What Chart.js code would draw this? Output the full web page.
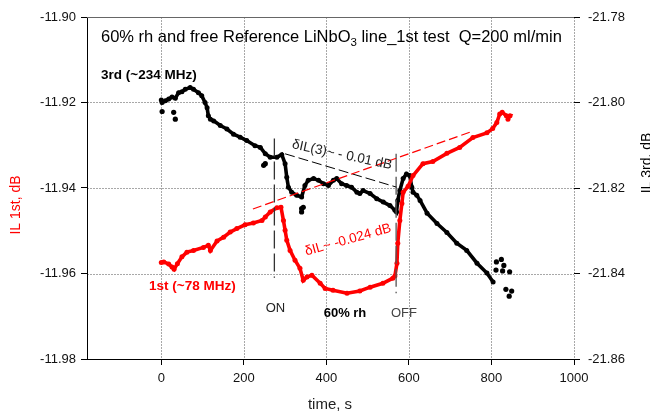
<!DOCTYPE html>
<html>
<head>
<meta charset="utf-8">
<script src="https://cdn.jsdelivr.net/npm/chart.js@4"></script>
<style>
    html, body { margin: 0; padding: 0; background: #fff; }
    #wrap { width: 650px; height: 416px; }
</style>
</head>
<body>
<div id="wrap"><canvas id="chart" width="650" height="416"></canvas></div>
<script>
// axis ticks
const xTicks = [0, 200, 400, 600, 800, 1000];
const ticks1st = [-11.98, -11.96, -11.94, -11.92, -11.90];
const ticks3rd = [-21.86, -21.84, -21.82, -21.80, -21.78];

// 1st harmonic (~78 MHz), left axis
const time1st = [0, 6, 18, 26, 31, 39, 50, 62, 78, 102, 114, 119, 135, 151, 167, 183, 203, 223, 244, 252, 264, 280, 290,
    296, 300, 304, 312, 324, 336, 344, 353, 365, 385, 397, 416, 450, 481, 506, 537, 561, 566,
    571, 573, 578, 583, 586, 598, 610, 634, 658, 692, 723, 755, 789, 803, 813, 820, 826, 836, 845, 840];
const il1st = [-11.9574, -11.9573, -11.9578, -11.9585, -11.9590, -11.9577, -11.9561, -11.9550, -11.9546, -11.9539, -11.9534, -11.9546, -11.9524, -11.9515, -11.9503, -11.9495, -11.9486, -11.9482, -11.9476, -11.9468, -11.9456, -11.9446, -11.9445,
    -11.9476, -11.9499, -11.9522, -11.9546, -11.9569, -11.9588, -11.9616, -11.9608, -11.9604, -11.9623, -11.9635, -11.9639, -11.9646, -11.9641, -11.9632, -11.9623, -11.9611, -11.9606,
    -11.9576, -11.9529, -11.9476, -11.9436, -11.9410, -11.9396, -11.9371, -11.9343, -11.9338, -11.9319, -11.9305, -11.9282, -11.9271, -11.9261, -11.9247, -11.9227, -11.9223, -11.9231, -11.9231, -11.9239];

// 3rd harmonic (~234 MHz), right axis
const time3rd = [0, 2, 10, 18, 26, 34, 42, 50, 58, 70, 78, 90, 98, 106, 111, 114, 119, 127, 143, 159, 175, 191, 207, 227, 240, 252, 264, 280, 292,
    300, 304, 308, 316, 328, 340, 348, 356, 369, 381, 393, 405, 417, 425, 437, 449, 461, 474, 481, 489, 506, 522, 538, 554, 566, 570,
    573, 578, 586, 594, 602, 607, 610, 619, 627, 644, 668, 692, 716, 740, 765, 789, 804];
const il3rd = [-21.7994, -21.8000, -21.7996, -21.7992, -21.7987, -21.7990, -21.7977, -21.7975, -21.7969, -21.7965, -21.7969, -21.7977, -21.7984, -21.8000, -21.8012, -21.8031, -21.8039, -21.8043, -21.8054, -21.8062, -21.8074, -21.8081, -21.8089, -21.8101, -21.8105, -21.8120, -21.8128, -21.8128, -21.8122,
    -21.8143, -21.8175, -21.8198, -21.8210, -21.8217, -21.8221, -21.8194, -21.8182, -21.8178, -21.8182, -21.8190, -21.8194, -21.8182, -21.8178, -21.8190, -21.8194, -21.8198, -21.8210, -21.8213, -21.8206, -21.8213, -21.8225, -21.8233, -21.8241, -21.8252, -21.8256,
    -21.8229, -21.8206, -21.8178, -21.8167, -21.8171, -21.8198, -21.8210, -21.8217, -21.8229, -21.8259, -21.8283, -21.8304, -21.8329, -21.8346, -21.8376, -21.8399, -21.8420];

// stray 3rd-harmonic readings
const timeStray3rd = [2, 30, 34, 248, 252, 340, 340, 344, 812, 824, 830, 827, 811, 844, 835, 843, 849];
const ilStray3rd = [-21.8021, -21.8023, -21.8039, -21.8147, -21.8143, -21.8248, -21.8256, -21.8245, -21.8373, -21.8367, -21.8381, -21.8394, -21.8392, -21.8396, -21.8437, -21.8453, -21.8441];

// gas ON / OFF times and drift lines
const onTime = 274;
const offTime = 569;
const onSpan = [-11.9284, -11.9610];
const offSpan = [-11.9320, -11.9646];
const trend3rdTime = [300, 570];
const trend3rdIL = [-21.8120, -21.8198];
const trend1stTime = [222, 752];
const trend1stIL = [-11.9449, -11.9268];

const toPoints = (xs, ys) => xs.map((x, i) => ({ x: x, y: ys[i] }));

const FONT = '"Liberation Sans", Arial, sans-serif';

function line(ctx, x1, y1, x2, y2, color, width, dash) {
    ctx.save();
    ctx.strokeStyle = color;
    ctx.lineWidth = width;
    ctx.setLineDash(dash);
    ctx.beginPath();
    ctx.moveTo(x1, y1);
    ctx.lineTo(x2, y2);
    ctx.stroke();
    ctx.restore();
}

function label(ctx, text, x, y, opts) {
    ctx.save();
    ctx.translate(x, y);
    if (opts.rot) ctx.rotate(opts.rot * Math.PI / 180);
    ctx.font = opts.font;
    ctx.fillStyle = opts.color || '#000';
    ctx.textAlign = opts.align || 'center';
    ctx.textBaseline = 'middle';
    ctx.fillText(text, 0, 0);
    ctx.restore();
}

const notesPlugin = {
    id: 'notes',
    afterDatasetsDraw(chart) {
        const ctx = chart.ctx;
        const sx = chart.scales.x, s1 = chart.scales.y, s3 = chart.scales.y3;
        const area = chart.chartArea;

        // grid, slipped in behind the plotted data
        ctx.save();
        ctx.globalCompositeOperation = 'destination-over';
        xTicks.forEach(v => {
            const px = Math.round(sx.getPixelForValue(v)) + 0.5;
            line(ctx, px, area.top, px, area.bottom, '#a8a8a8', 1, [2, 1]);
        });
        ticks1st.slice(1, -1).forEach(v => {
            const py = Math.round(s1.getPixelForValue(v)) + 0.5;
            line(ctx, area.left, py, area.right, py, '#a8a8a8', 1, [2, 1]);
        });
        ctx.restore();

        // top frame line
        line(ctx, area.left, area.top + 0.5, area.right, area.top + 0.5, '#666', 1, []);

        // ON / OFF markers
        line(ctx, sx.getPixelForValue(onTime), s1.getPixelForValue(onSpan[0]),
            sx.getPixelForValue(onTime), s1.getPixelForValue(onSpan[1]), '#333', 1.3, [18, 5]);
        line(ctx, sx.getPixelForValue(offTime), s1.getPixelForValue(offSpan[0]),
            sx.getPixelForValue(offTime), s1.getPixelForValue(offSpan[1]), '#555', 1.3, [18, 5]);

        // drift lines
        line(ctx, sx.getPixelForValue(trend3rdTime[0]), s3.getPixelForValue(trend3rdIL[0]),
            sx.getPixelForValue(trend3rdTime[1]), s3.getPixelForValue(trend3rdIL[1]), '#000', 1, [10, 4]);
        line(ctx, sx.getPixelForValue(trend1stTime[0]), s1.getPixelForValue(trend1stIL[0]),
            sx.getPixelForValue(trend1stTime[1]), s1.getPixelForValue(trend1stIL[1]), '#ff0000', 1.2, [9, 4]);

        // title with subscript
        ctx.save();
        ctx.fillStyle = '#000';
        ctx.textBaseline = 'alphabetic';
        let tx = 101;
        const ty = 42;
        const parts = [['60% rh and free Reference LiNbO', 16.5, 0], ['3', 11.5, 4], [' line_1st test  Q=200 ml/min', 16.5, 0]];
        parts.forEach(p => {
            ctx.font = p[1] + 'px ' + FONT;
            ctx.fillText(p[0], tx, ty + p[2]);
            tx += ctx.measureText(p[0]).width;
        });
        ctx.restore();

        label(ctx, '3rd (~234 MHz)', 101, 75, { font: 'bold 13.5px ' + FONT, align: 'left' });
        label(ctx, '1st (~78 MHz)', 149, 286, { font: 'bold 13.5px ' + FONT, align: 'left', color: '#ff0000' });
        label(ctx, 'ON', 275.5, 308, { font: '13px ' + FONT, color: '#222' });
        label(ctx, '60% rh', 345, 313, { font: 'bold 13px ' + FONT });
        label(ctx, 'OFF', 404, 313, { font: '13px ' + FONT, color: '#444' });
        label(ctx, 'δIL(3)~ - 0.01 dB', 342, 155, { font: '13.5px ' + FONT, color: '#222', rot: 12 });
        label(ctx, 'δIL~ -0.024 dB', 348, 240, { font: '13.5px ' + FONT, color: '#ff0000', rot: -15.5 });

        // axis titles
        label(ctx, 'IL 1st, dB', 16, 205, { font: '14px ' + FONT, color: '#ff0000', rot: -90 });
        label(ctx, 'IL 3rd, dB', 647, 163, { font: '14px ' + FONT, color: '#000', rot: -90 });
        label(ctx, 'time, s', 330, 405, { font: '15px ' + FONT, color: '#222' });
    }
};

const tickFont = { family: FONT, size: 13 };

new Chart(document.getElementById('chart'), {
    type: 'line',
    data: {
        datasets: [
            {
                label: '1st',
                data: toPoints(time1st, il1st),
                yAxisID: 'y',
                borderColor: '#ff0000',
                backgroundColor: '#ff0000',
                borderWidth: 3.6,
                pointRadius: 2.5,
                pointBorderWidth: 0,
                tension: 0
            },
            {
                label: '3rd',
                data: toPoints(time3rd, il3rd),
                yAxisID: 'y3',
                borderColor: '#000',
                backgroundColor: '#000',
                borderWidth: 3.6,
                pointRadius: 2.5,
                pointBorderWidth: 0,
                tension: 0
            },
            {
                label: '3rd stray',
                data: toPoints(timeStray3rd, ilStray3rd),
                yAxisID: 'y3',
                showLine: false,
                backgroundColor: '#000',
                borderColor: '#000',
                pointRadius: 2.6,
                pointBorderWidth: 0
            }
        ]
    },
    options: {
        responsive: false,
        animation: false,
        events: [],
        layout: { padding: { top: 17, left: 0, right: 0, bottom: 0 } },
        plugins: {
            legend: { display: false },
            tooltip: { enabled: false }
        },
        scales: {
            x: {
                type: 'linear',
                min: -180,
                max: 1000,
                afterBuildTicks: s => { s.ticks = xTicks.map(v => ({ value: v })); },
                afterFit: s => { s.height = 57; },
                ticks: { font: tickFont, color: '#111', padding: 6, maxRotation: 0, callback: v => String(v) },
                grid: { drawOnChartArea: false, tickColor: '#000', tickLength: 6 },
                border: { color: '#000', width: 1 }
            },
            y: {
                position: 'left',
                min: -11.98,
                max: -11.90,
                afterBuildTicks: s => { s.ticks = ticks1st.map(v => ({ value: v })); },
                afterFit: s => { s.width = 87; },
                ticks: { font: tickFont, color: '#111', padding: 5, callback: v => v.toFixed(2) },
                grid: { drawOnChartArea: false, tickColor: '#000', tickLength: 6 },
                border: { color: '#000', width: 1 }
            },
            y3: {
                position: 'right',
                min: -21.86,
                max: -21.78,
                afterBuildTicks: s => { s.ticks = ticks3rd.map(v => ({ value: v })); },
                afterFit: s => { s.width = 76; },
                ticks: { font: tickFont, color: '#111', padding: 8, callback: v => v.toFixed(2) },
                grid: { drawOnChartArea: false, tickColor: '#000', tickLength: 6 },
                border: { display: false }
            }
        }
    },
    plugins: [notesPlugin]
});
</script>
</body>
</html>
